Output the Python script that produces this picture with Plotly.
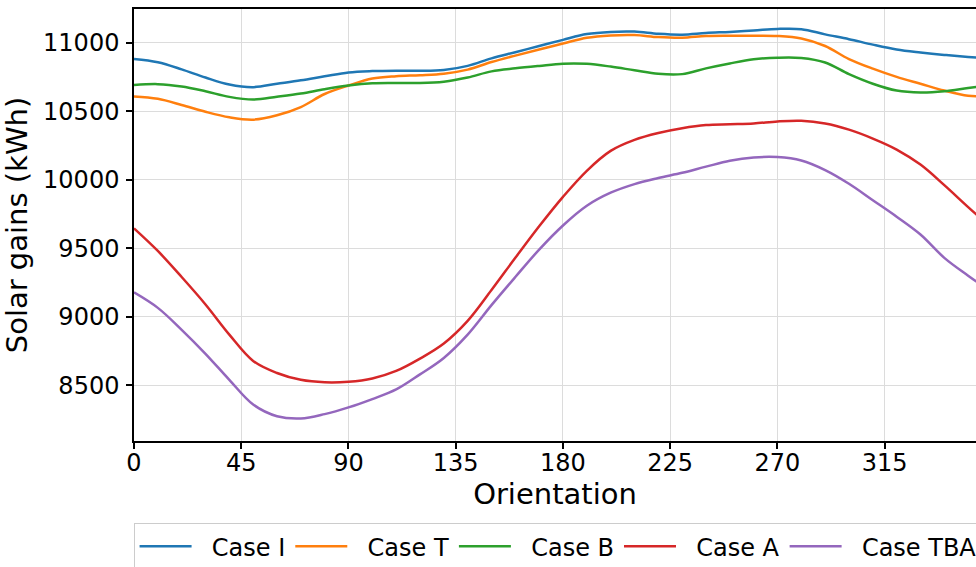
import plotly.graph_objects as go

orientation = list(range(0, 361, 10))

case_i = [10881, 10857, 10805, 10745, 10694, 10675, 10700, 10725, 10754, 10782,
          10792, 10795, 10794, 10800, 10830, 10885, 10930, 10975, 11020, 11062,
          11078, 11080, 11064, 11058, 11070, 11078, 11088, 11100, 11098, 11060,
          11025, 10985, 10950, 10928, 10910, 10895, 10881]
case_t = [10607, 10590, 10545, 10495, 10455, 10438, 10470, 10530, 10625, 10687,
          10738, 10755, 10762, 10773, 10803, 10858, 10905, 10950, 10993, 11035,
          11052, 11055, 11040, 11035, 11048, 11050, 11050, 11048, 11030, 10975,
          10880, 10810, 10750, 10700, 10650, 10612, 10607]
case_b = [10690, 10697, 10680, 10645, 10604, 10585, 10605, 10628, 10660, 10687,
          10703, 10705, 10705, 10715, 10745, 10790, 10812, 10830, 10846, 10845,
          10825, 10798, 10772, 10770, 10812, 10848, 10878, 10890, 10888, 10855,
          10770, 10700, 10650, 10636, 10645, 10668, 10690]
case_a = [9645, 9480, 9290, 9090, 8870, 8678, 8590, 8540, 8522, 8526,
          8550, 8605, 8695, 8805, 8970, 9195, 9430, 9660, 9875, 10065,
          10210, 10290, 10340, 10375, 10398, 10404, 10410, 10425, 10430, 10410,
          10365, 10300, 10220, 10110, 9960, 9800, 9645]
case_tba = [9178, 9065, 8905, 8730, 8540, 8360, 8275, 8258, 8290, 8339,
            8400, 8470, 8580, 8700, 8870, 9085, 9290, 9490, 9666, 9810,
            9905, 9968, 10012, 10050, 10095, 10138, 10162, 10165, 10140, 10070,
            9970, 9850, 9730, 9600, 9430, 9300, 9178]

series_names = ["Case I", "Case T", "Case B", "Case A", "Case TBA"]
series_values = [case_i, case_t, case_b, case_a, case_tba]
colors = ["#1f77b4", "#ff7f0e", "#2ca02c", "#d62728", "#9467bd"]

x_ticks = [0, 45, 90, 135, 180, 225, 270, 315]
y_ticks = [8500, 9000, 9500, 10000, 10500, 11000]

font = "DejaVu Sans"
pad = "\u00a0\u00a0"
fig = go.Figure()
for name, vals, col in zip(series_names, series_values, colors):
    fig.add_trace(go.Scatter(x=orientation, y=vals, name=pad + name, mode="lines",
                             line=dict(color=col, width=2.5, shape="spline", smoothing=1.0)))

fig.update_layout(
    width=976, height=567,
    margin=dict(l=134, r=0, t=9, b=126, autoexpand=False),
    paper_bgcolor="white", plot_bgcolor="white",
    font=dict(family=font, size=24, color="black"),
    showlegend=True,
    legend=dict(orientation="h", x=-0.0005, xanchor="left", y=-0.19, yanchor="top",
                bordercolor="#cccccc", borderwidth=1, bgcolor="white",
                font=dict(family=font, size=24, color="black"),
                itemwidth=52),
)
fig.update_xaxes(range=[0, 353.3], tickvals=x_ticks, ticks="outside", ticklen=6, tickwidth=1.5,
                 tickcolor="black", showline=True, linecolor="black", linewidth=1.5, mirror=True,
                 showgrid=True, gridcolor="#dcdcdc", gridwidth=1, zeroline=False,
                 ticklabelstandoff=-7,
                 title=dict(text="Orientation", standoff=6), tickfont=dict(size=24))
fig.update_yaxes(range=[8094, 11245], tickvals=y_ticks, tickformat="d", ticks="outside",
                 ticklen=6, tickwidth=1.5, ticklabelstandoff=2,
                 tickcolor="black", showline=True, linecolor="black", linewidth=1.5, mirror=False,
                 showgrid=True, gridcolor="#dcdcdc", gridwidth=1, zeroline=False,
                 title=dict(text="Solar gains (kWh)", standoff=8), tickfont=dict(size=24))

fig.write_html("out.html", config={"displayModeBar": False},
               post_script="document.body.style.margin='0px';document.body.style.overflow='hidden';")
